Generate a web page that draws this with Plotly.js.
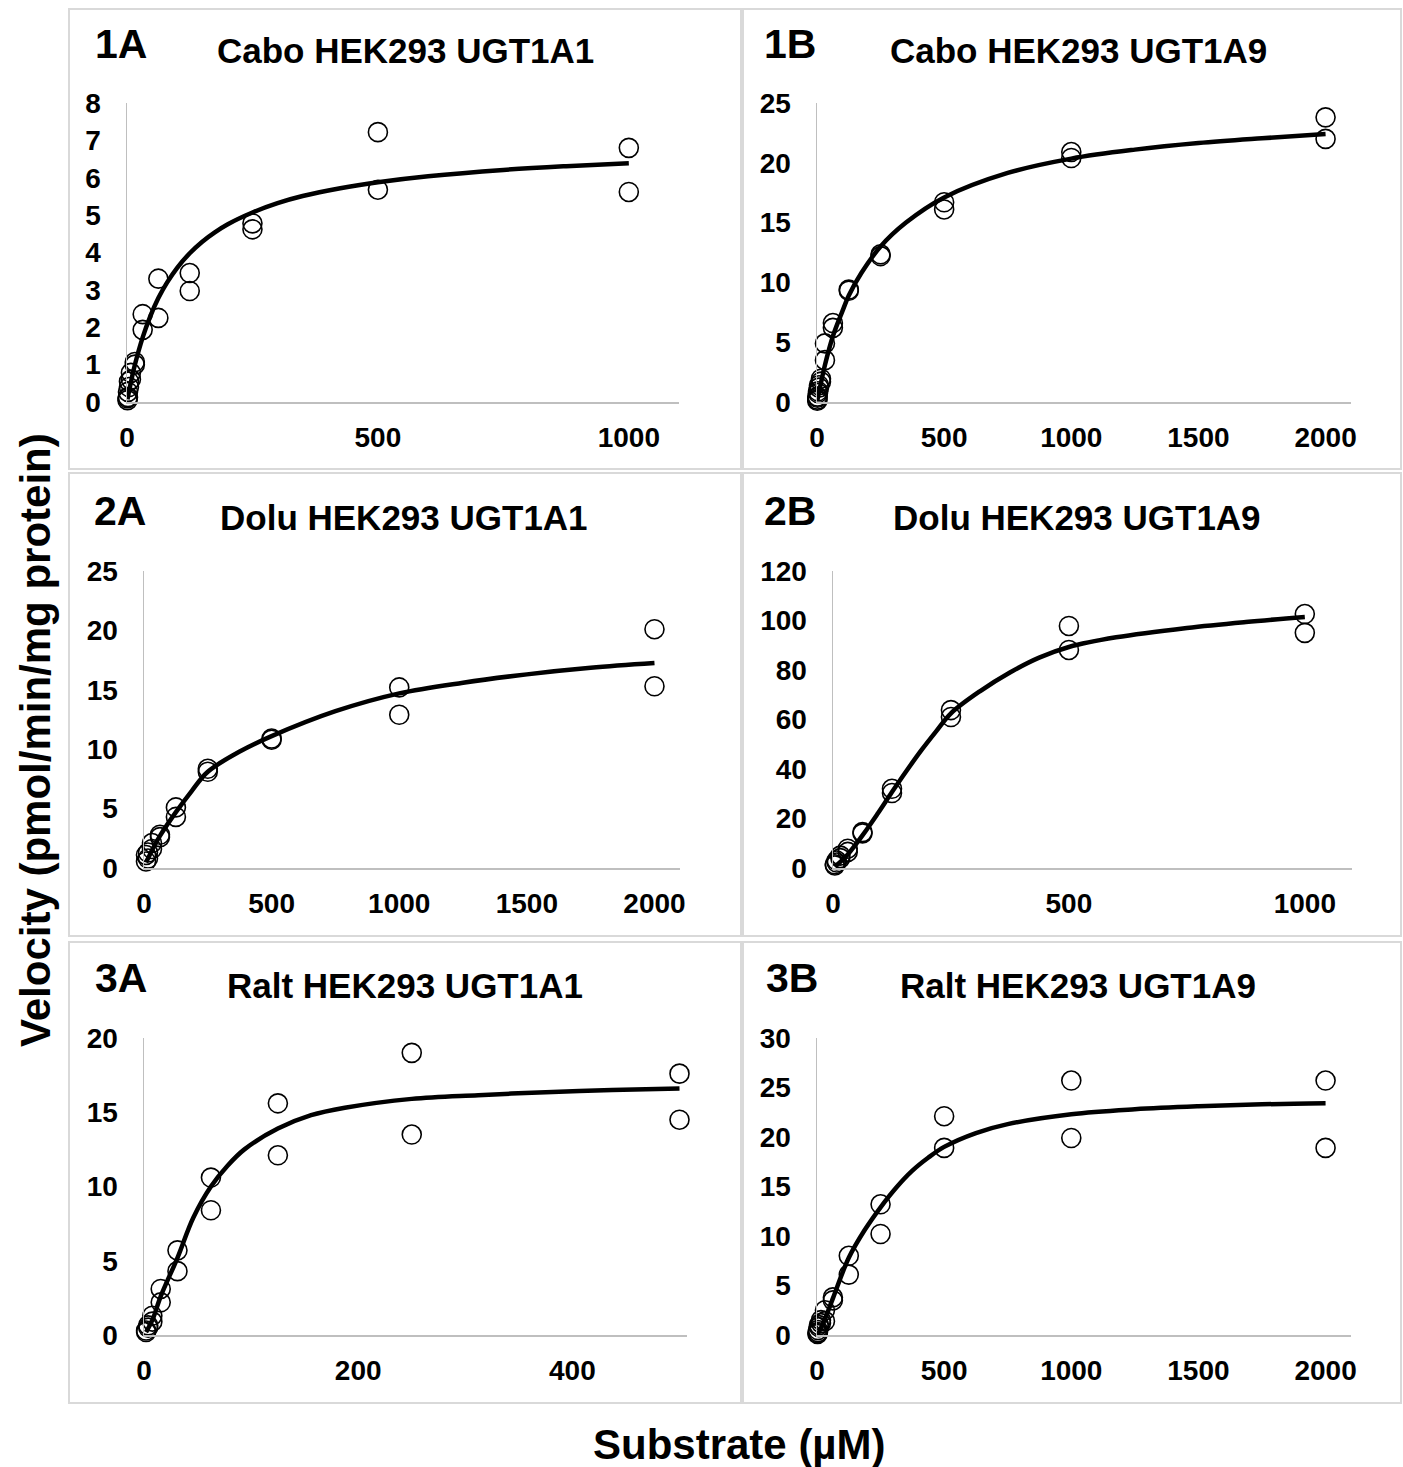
<!DOCTYPE html>
<html>
<head>
<meta charset="utf-8">
<script src="https://cdn.plot.ly/plotly-3.0.1.min.js"></script>
<style>html,body{margin:0;padding:0;background:#fff;}#chart{width:1403px;height:1467px;}</style>
</head>
<body>
<div id="chart"></div>
<script>
// ---------- Data ----------
const panelLabels = ["1A", "1B", "2A", "2B", "3A", "3B"];
const panelTitles = ["Cabo HEK293 UGT1A1", "Cabo HEK293 UGT1A9",
                     "Dolu HEK293 UGT1A1", "Dolu HEK293 UGT1A9",
                     "Ralt HEK293 UGT1A1", "Ralt HEK293 UGT1A9"];
const xAxisTitle = "Substrate (µM)";
const yAxisTitle = "Velocity (pmol/min/mg protein)";

// 1A Cabo UGT1A1
const cabo1a_x = [0.98,0.98,1.95,1.95,3.9,3.9,7.8,7.8,15.6,15.6,31.25,31.25,62.5,62.5,125,125,250,250,500,500,1000,1000];
const cabo1a_y = [0.05,0.1,0.13,0.27,0.4,0.55,0.78,0.6,1.07,1.0,2.35,1.93,3.3,2.25,3.45,2.97,4.78,4.62,7.22,5.68,6.8,5.62];
const cabo1a_fitx = [0.98,3.9,7.8,15.6,31.25,46,62.5,80,100,125,150,175,200,250,300,350,425,500,600,750,875,1000];
const cabo1a_fity = [0.07,0.28,0.53,0.99,1.73,2.28,2.78,3.2,3.59,3.98,4.29,4.54,4.75,5.07,5.32,5.51,5.72,5.88,6.04,6.21,6.31,6.39];

// 1B Cabo UGT1A9
const cabo1b_x = [0.98,0.98,1.95,1.95,3.9,3.9,7.8,7.8,15.6,15.6,31.25,31.25,62.5,62.5,125,125,250,250,500,500,1000,1000,2000,2000];
const cabo1b_y = [0.1,0.2,0.35,0.45,0.75,0.9,1.2,1.4,1.95,1.7,4.9,3.5,6.6,6.2,9.4,9.3,12.35,12.2,16.7,16.1,20.9,20.4,23.8,22.0];
const cabo1b_fitx = [0.98,3.9,7.8,15.6,31.25,62.5,100,125,175,250,350,500,750,1000,1250,1500,1750,2000];
const cabo1b_fity = [0.1,0.42,0.83,1.6,3.1,5.5,7.6,8.9,10.8,13.0,15.0,17.1,19.15,20.35,21.1,21.65,22.05,22.4];

// 2A Dolu UGT1A1
const dolu2a_x = [7.8,7.8,15.6,15.6,31.25,31.25,62.5,62.5,125,125,250,250,500,500,1000,1000,2000,2000];
const dolu2a_y = [1.1,0.55,1.3,0.8,2.1,1.6,2.8,2.6,5.1,4.3,8.35,8.1,10.9,10.8,15.2,12.9,20.1,15.3];
const dolu2a_fitx = [7.8,15.6,31.25,62.5,125,187.5,250,375,500,750,1000,1250,1500,1750,2000];
const dolu2a_fity = [0.5,0.8,1.5,2.7,4.7,6.5,8.1,9.8,11.1,13.2,14.7,15.6,16.3,16.85,17.25];

// 2B Dolu UGT1A9
const dolu2b_x = [3.9,3.9,7.8,7.8,15.6,15.6,31.25,31.25,62.5,62.5,125,125,250,250,500,500,1000,1000];
const dolu2b_y = [1.0,1.5,2.2,3.0,4.0,5.0,7.8,6.5,14.5,14.0,32.0,30.3,63.8,61.0,97.8,88.1,102.6,95.0];
const dolu2b_fitx = [3.9,15.6,31.25,62.5,94,125,156,187,219,250,312,375,437,500,600,750,875,1000];
const dolu2b_fity = [0.6,2.5,5.5,13.2,21.8,30.7,39.3,47.5,55.3,62.5,71.5,79,85,89.3,93.2,97.0,99.4,101.4];

// 3A Ralt UGT1A1
const ralt3a_x = [1.95,1.95,3.9,3.9,7.8,7.8,15.6,15.6,31.25,31.25,62.5,62.5,125,125,250,250,500,500];
const ralt3a_y = [0.2,0.3,0.5,0.65,1.3,0.9,3.1,2.2,5.7,4.3,10.6,8.4,15.6,12.1,19.0,13.5,17.6,14.5];
const ralt3a_fitx = [1.95,7.8,15.6,31.25,46,62.5,78,93.75,125,156,187.5,250,312,375,437,500];
const ralt3a_fity = [0.2,1.0,2.6,5.2,7.9,10.0,11.4,12.5,13.9,14.8,15.3,15.9,16.15,16.35,16.5,16.6];

// 3B Ralt UGT1A9
const ralt3b_x = [1.95,1.95,3.9,3.9,7.8,7.8,15.6,15.6,31.25,31.25,62.5,62.5,125,125,250,250,500,500,1000,1000,2000,2000];
const ralt3b_y = [0.1,0.2,0.3,0.5,0.8,1.0,1.5,1.2,2.5,1.4,3.8,3.5,8.0,6.1,13.2,10.2,22.1,18.9,25.7,19.9,25.7,18.9];
const ralt3b_fitx = [1.95,7.8,15.6,31.25,62.5,125,187.5,250,312,375,437,500,625,750,1000,1250,1500,1750,2000];
const ralt3b_fity = [0.05,0.3,0.7,1.6,3.7,7.8,10.6,12.9,14.9,16.6,17.9,19.0,20.4,21.3,22.3,22.8,23.1,23.3,23.4];

// Tick values
const ticks1a_x = [0,500,1000],            ticks1a_y = [0,1,2,3,4,5,6,7,8];
const ticks1b_x = [0,500,1000,1500,2000],  ticks1b_y = [0,5,10,15,20,25];
const ticks2a_x = [0,500,1000,1500,2000],  ticks2a_y = [0,5,10,15,20,25];
const ticks2b_x = [0,500,1000],            ticks2b_y = [0,20,40,60,80,100,120];
const ticks3a_x = [0,200,400],             ticks3a_y = [0,5,10,15,20];
const ticks3b_x = [0,500,1000,1500,2000],  ticks3b_y = [0,5,10,15,20,25,30];

// ---------- Layout helpers ----------
const W = 1403, H = 1467;
const px = v => v / W;
const py = v => 1 - v / H;
const FONT = "Liberation Sans, Arial, Helvetica, sans-serif";

const panels = [
  {sx: cabo1a_x, sy: cabo1a_y, fx: cabo1a_fitx, fy: cabo1a_fity, tx: ticks1a_x, ty: ticks1a_y, xr: [0,1100], x0: 127, x1: 679, y0: 103, y1: 402},
  {sx: cabo1b_x, sy: cabo1b_y, fx: cabo1b_fitx, fy: cabo1b_fity, tx: ticks1b_x, ty: ticks1b_y, xr: [0,2100], x0: 817, x1: 1351, y0: 103, y1: 402},
  {sx: dolu2a_x, sy: dolu2a_y, fx: dolu2a_fitx, fy: dolu2a_fity, tx: ticks2a_x, ty: ticks2a_y, xr: [0,2100], x0: 144, x1: 680, y0: 571, y1: 868},
  {sx: dolu2b_x, sy: dolu2b_y, fx: dolu2b_fitx, fy: dolu2b_fity, tx: ticks2b_x, ty: ticks2b_y, xr: [0,1100], x0: 833, x1: 1352, y0: 571, y1: 868},
  {sx: ralt3a_x, sy: ralt3a_y, fx: ralt3a_fitx, fy: ralt3a_fity, tx: ticks3a_x, ty: ticks3a_y, xr: [0,507], x0: 144, x1: 687, y0: 1038, y1: 1335},
  {sx: ralt3b_x, sy: ralt3b_y, fx: ralt3b_fitx, fy: ralt3b_fity, tx: ticks3b_x, ty: ticks3b_y, xr: [0,2100], x0: 817, x1: 1351, y0: 1038, y1: 1335}
];

const labelPos = [[121,44],[790,44],[120,511],[790,511],[121,978],[792,978]];
const titlePos = [[405,50],[1078,50],[404,517],[1077,517],[405,985],[1078,985]];
const boxes = [[69,9,741,469],[743,9,1401,469],[69,473,741,936],[743,473,1401,936],[69,942,741,1403],[743,942,1401,1403]];

const traces = [];
const layout = {
  width: W, height: H,
  margin: {l: 0, r: 0, t: 0, b: 0},
  paper_bgcolor: "#ffffff", plot_bgcolor: "rgba(0,0,0,0)",
  showlegend: false,
  font: {family: FONT, color: "#000"},
  annotations: [], shapes: []
};

panels.forEach((p, i) => {
  const n = i === 0 ? "" : String(i + 1);
  const xa = "x" + n, ya = "y" + n;
  traces.push({
    x: p.fx, y: p.fy, xaxis: xa, yaxis: ya, type: "scatter", mode: "lines",
    line: {color: "#000", width: 4.5, shape: "spline", smoothing: 1.0},
    hoverinfo: "skip", cliponaxis: false
  });
  traces.push({
    x: p.sx, y: p.sy, xaxis: xa, yaxis: ya, type: "scatter", mode: "markers",
    marker: {symbol: "circle-open", size: 19, color: "#000", line: {width: 1.6, color: "#000"}},
    cliponaxis: false
  });
  const ymax = p.ty[p.ty.length - 1];
  layout["xaxis" + n] = {
    domain: [px(p.x0), px(p.x1)], range: p.xr, anchor: ya,
    showline: true, linecolor: "#bfbfbf", linewidth: 1.5,
    showgrid: false, zeroline: false, ticks: "",
    tickmode: "array", tickvals: p.tx, ticktext: p.tx.map(String),
    tickfont: {family: FONT, size: 28, color: "#000", weight: 700},
    ticklabelstandoff: 10, fixedrange: true
  };
  layout["yaxis" + n] = {
    domain: [py(p.y1), py(p.y0)], range: [0, ymax], anchor: xa,
    showline: true, linecolor: "#bfbfbf", linewidth: 1.5,
    showgrid: false, zeroline: false, ticks: "",
    tickmode: "array", tickvals: p.ty, ticktext: p.ty.map(String),
    tickfont: {family: FONT, size: 28, color: "#000", weight: 700},
    ticklabelstandoff: 19, fixedrange: true
  };
  layout.annotations.push({
    xref: "paper", yref: "paper", x: px(labelPos[i][0]), y: py(labelPos[i][1]),
    xanchor: "center", yanchor: "middle", showarrow: false, text: panelLabels[i],
    font: {family: FONT, size: 41, color: "#000", weight: 700}
  });
  layout.annotations.push({
    xref: "paper", yref: "paper", x: px(titlePos[i][0]), y: py(titlePos[i][1]),
    xanchor: "center", yanchor: "middle", showarrow: false, text: panelTitles[i],
    font: {family: FONT, size: 35, color: "#000", weight: 700}
  });
  const b = boxes[i];
  layout.shapes.push({
    type: "rect", xref: "paper", yref: "paper", layer: "below",
    x0: px(b[0]), x1: px(b[2]), y0: py(b[3]), y1: py(b[1]),
    line: {color: "#d9d9d9", width: 2}, fillcolor: "rgba(0,0,0,0)"
  });
});

layout.annotations.push({
  xref: "paper", yref: "paper", x: px(740), y: py(1444),
  xanchor: "center", yanchor: "middle", showarrow: false, text: xAxisTitle,
  font: {family: FONT, size: 42, color: "#000", weight: 700}
});
layout.annotations.push({
  xref: "paper", yref: "paper", x: px(35), y: py(740), textangle: -90,
  xanchor: "center", yanchor: "middle", showarrow: false, text: yAxisTitle,
  font: {family: FONT, size: 42, color: "#000", weight: 700}
});

Plotly.newPlot("chart", traces, layout, {staticPlot: true, displayModeBar: false});
</script>
</body>
</html>
